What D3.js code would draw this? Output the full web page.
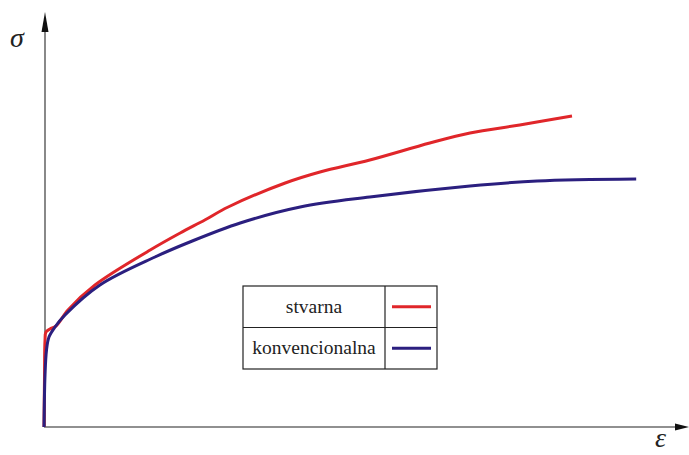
<!DOCTYPE html>
<html>
<head>
<meta charset="utf-8">
<script src="https://cdn.jsdelivr.net/npm/d3@7"></script>
<style>
	body { margin: 0; background: #fff; }
	svg { display: block; }
	.serif { font-family: 'Liberation Serif', 'Times New Roman', serif; }
</style>
</head>
<body>
<div id="chart"></div>
<script>
// strain (0..100) / stress (0..100) in arbitrary units
const stvarnaX = [ 0, 0.08, 0.17, 0.33, 1, 2, 4, 8.5, 17.7, 22.7, 26.8, 30.7, 40.2, 46, 54.3, 64.3, 71, 79.3, 88 ];
const stvarnaY = [ 0, 11.75, 21.75, 23.75, 24.5, 25.25, 29.25, 35.5, 44.25, 48.5, 51.75, 55, 61, 63.75, 66.75, 71, 73.5, 75.5, 77.75 ];

const konvX = [ 0, 0.17, 0.42, 0.83, 1.83, 3.5, 9.33, 18.5, 24.3, 32.7, 42.7, 54.3, 71, 82.2, 98.7 ];
const konvY = [ 0, 13, 19.25, 22.5, 25, 28, 35.5, 42.5, 46.25, 51, 55, 57.5, 60.25, 61.5, 62 ];

const legendLabels = [ 'stvarna', 'konvencionalna' ];
const seriesColors = [ '#e0262a', '#2b1f7f' ];

const width = 689,
	height = 455;
const origin = { x: 44, y: 427 };

const svg = d3.select('#chart').append('svg').attr('width', width).attr('height', height);

const x = d3.scaleLinear().domain([ 0, 100 ]).range([ origin.x, origin.x + 600 ]);
const y = d3.scaleLinear().domain([ 0, 100 ]).range([ origin.y, origin.y - 400 ]);

// axes with arrows
svg.append('line')
	.attr('x1', origin.x).attr('y1', origin.y)
	.attr('x2', 678).attr('y2', origin.y)
	.attr('stroke', '#6b6b6b').attr('stroke-width', 1.6);
svg.append('path')
	.attr('d', `M689,${origin.y} L675,${origin.y - 3.5} L675,${origin.y + 3.5} Z`)
	.attr('fill', '#111');

svg.append('line')
	.attr('x1', origin.x + 1).attr('y1', origin.y)
	.attr('x2', origin.x + 1).attr('y2', 30)
	.attr('stroke', '#6b6b6b').attr('stroke-width', 1.6);
svg.append('path')
	.attr('d', `M${origin.x + 1},12 L${origin.x - 2.5},32 L${origin.x + 4.5},32 Z`)
	.attr('fill', '#111');

svg.append('text')
	.attr('class', 'serif')
	.text('σ')
	.attr('x', 10).attr('y', 47)
	.attr('font-style', 'italic')
	.attr('font-size', 28)
	.attr('fill', '#222');

svg.append('text')
	.attr('class', 'serif')
	.text('ε')
	.attr('x', 655).attr('y', 447)
	.attr('font-style', 'italic')
	.attr('font-size', 28)
	.attr('fill', '#222');

// curves
const line = d3.line()
	.x((d) => x(d[0]))
	.y((d) => y(d[1]))
	.curve(d3.curveCatmullRom.alpha(0.5));

const series = [ d3.zip(stvarnaX, stvarnaY), d3.zip(konvX, konvY) ];

svg.selectAll('path.curve')
	.data(series)
	.enter()
	.append('path')
	.attr('class', 'curve')
	.attr('d', line)
	.attr('fill', 'none')
	.attr('stroke', (d, i) => seriesColors[i])
	.attr('stroke-width', 3)
	.attr('stroke-linejoin', 'round');

// legend table
const leg = { x: 243, y: 286, w: 194, h: 83, split: 142 };
const lg = svg.append('g').attr('transform', `translate(${leg.x}, ${leg.y})`);

lg.append('rect')
	.attr('width', leg.w).attr('height', leg.h)
	.attr('fill', 'none').attr('stroke', '#222').attr('stroke-width', 1.2);
lg.append('line')
	.attr('x1', leg.split).attr('x2', leg.split)
	.attr('y1', 0).attr('y2', leg.h)
	.attr('stroke', '#222').attr('stroke-width', 1.2);
lg.append('line')
	.attr('x1', 0).attr('x2', leg.w)
	.attr('y1', leg.h / 2).attr('y2', leg.h / 2)
	.attr('stroke', '#222').attr('stroke-width', 1.2);

legendLabels.forEach(function(label, i) {
	const cy = leg.h / 4 + i * leg.h / 2;
	lg.append('text')
		.attr('class', 'serif')
		.text(label)
		.attr('x', leg.split / 2)
		.attr('y', cy + 6)
		.attr('text-anchor', 'middle')
		.attr('font-size', 19.5)
		.attr('fill', '#222');
	lg.append('line')
		.attr('x1', leg.split + 7).attr('x2', leg.w - 6)
		.attr('y1', cy).attr('y2', cy)
		.attr('stroke', seriesColors[i])
		.attr('stroke-width', 3);
});
</script>
</body>
</html>
